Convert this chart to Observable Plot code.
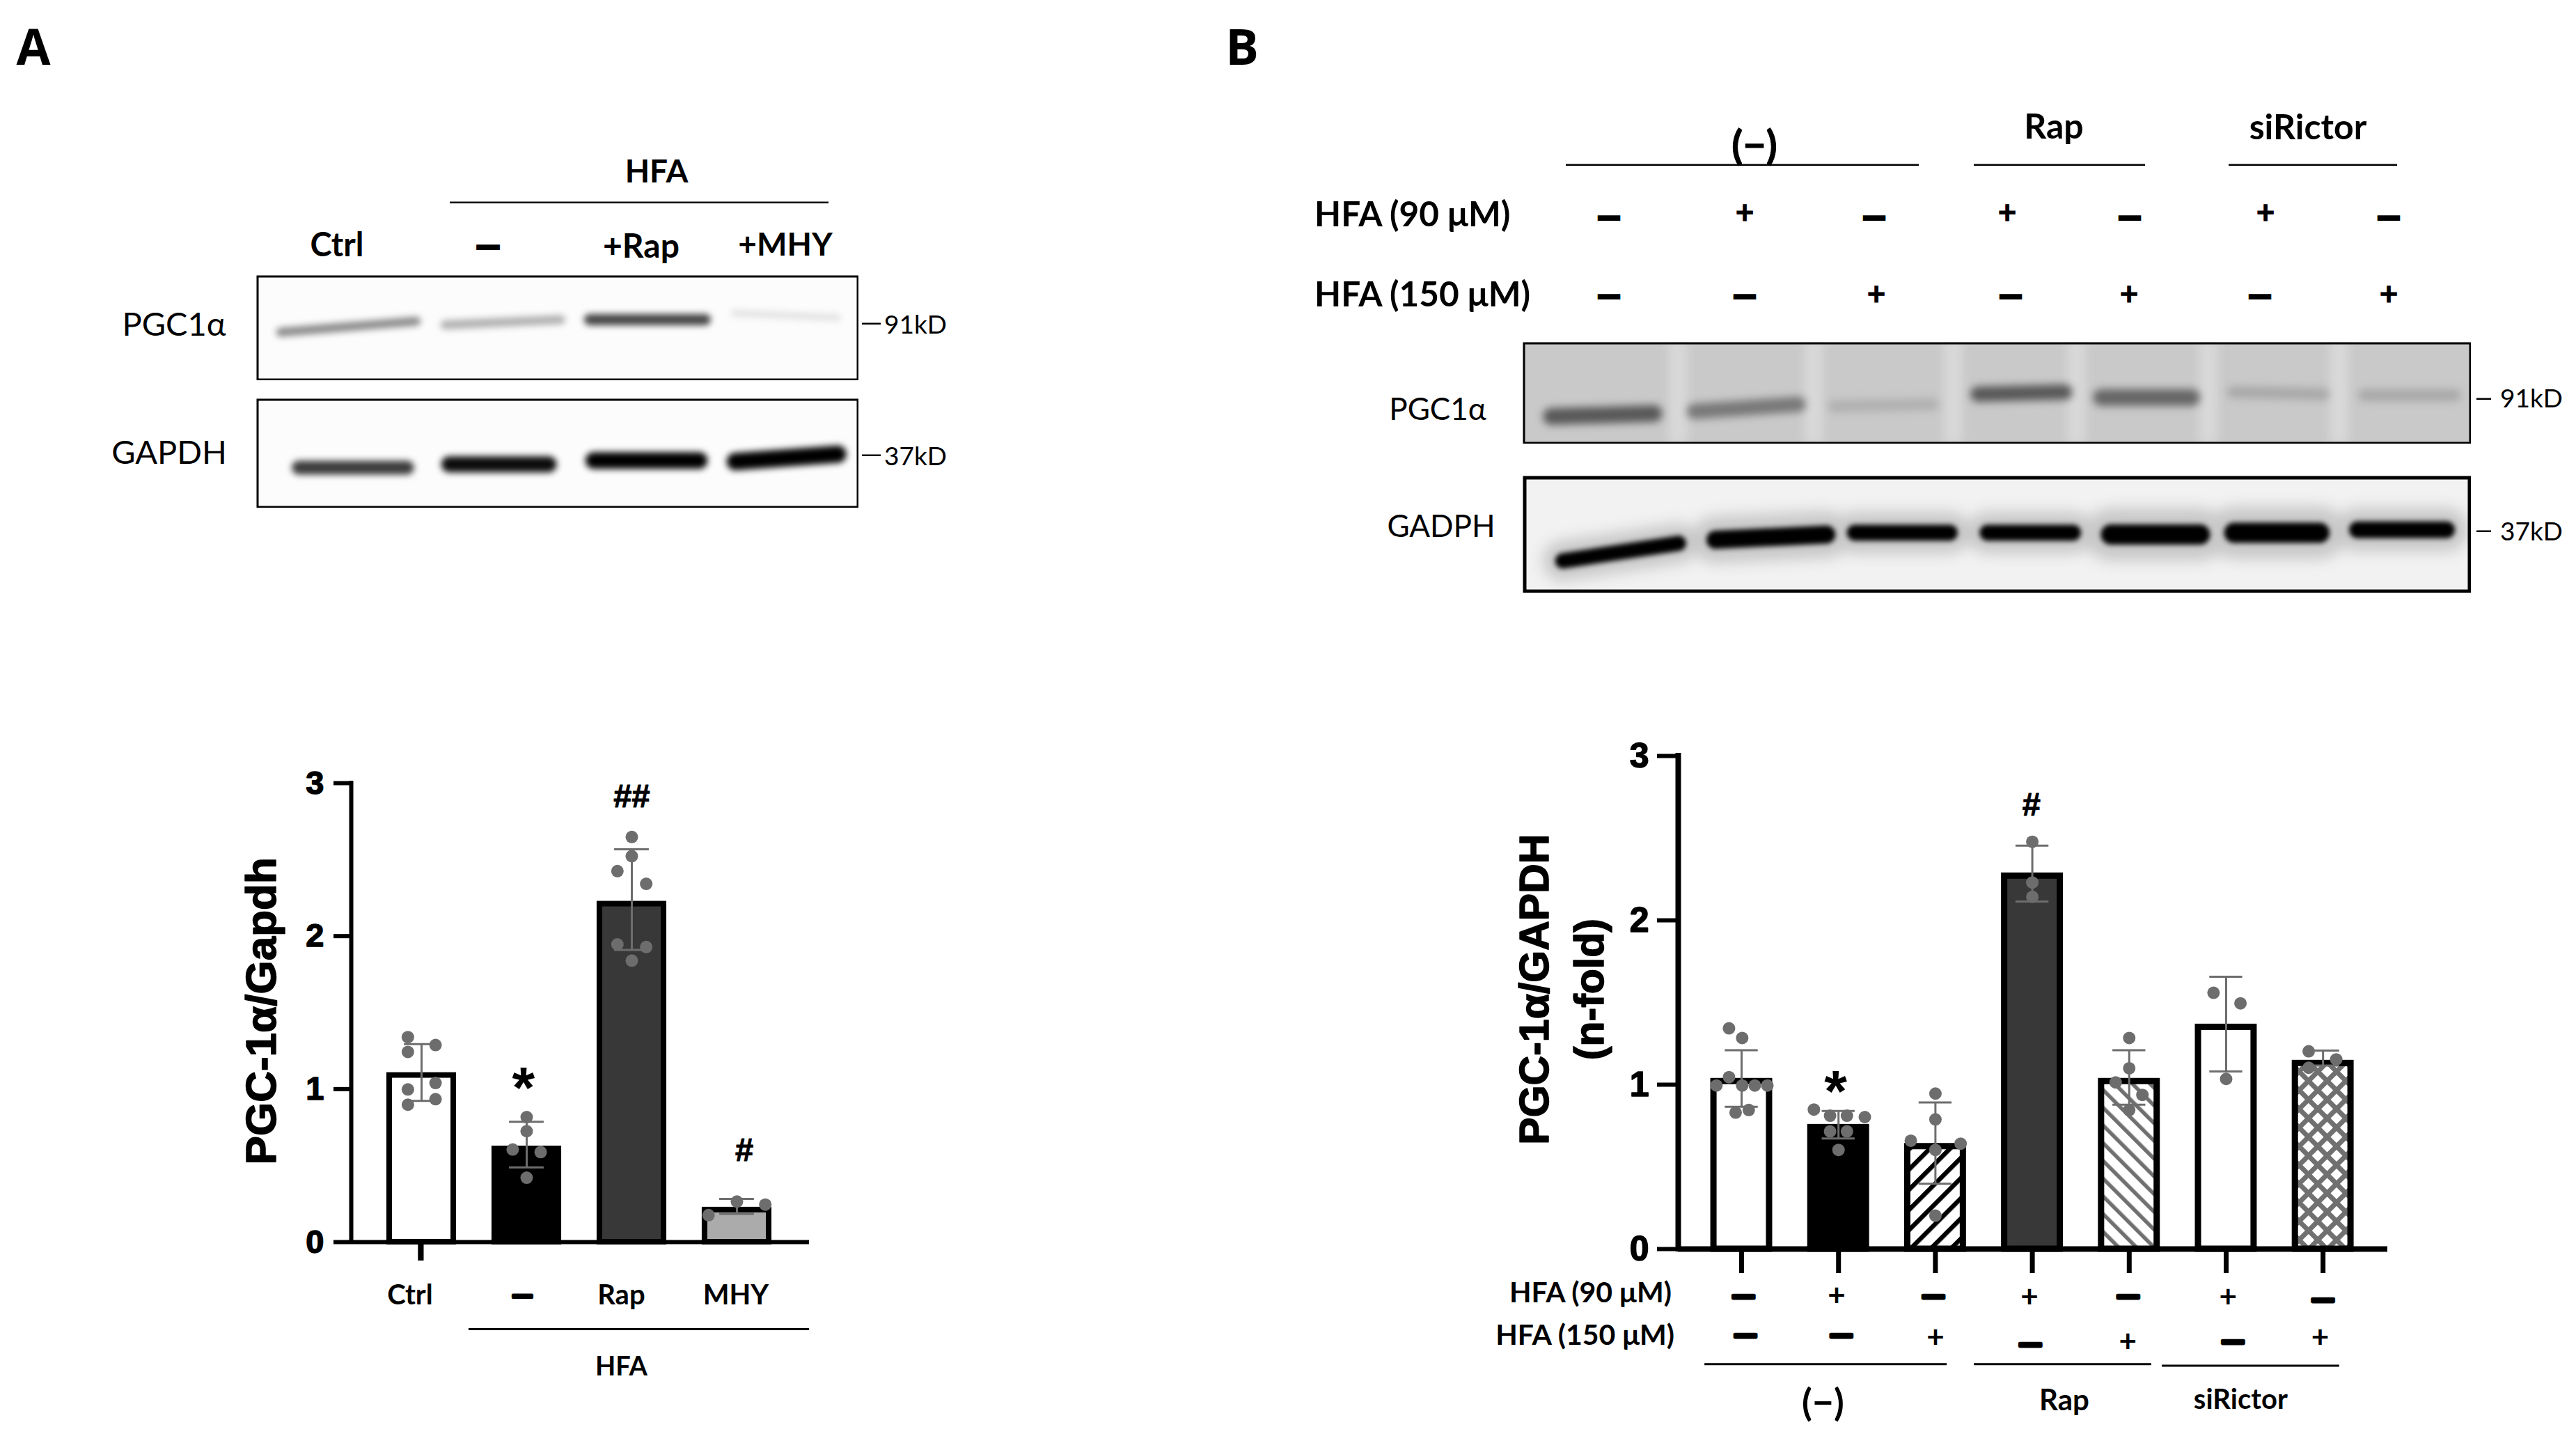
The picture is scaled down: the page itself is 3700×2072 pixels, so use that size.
<!DOCTYPE html>
<html><head><meta charset="utf-8">
<script src="https://cdn.jsdelivr.net/npm/d3@7"></script>
<script src="https://cdn.jsdelivr.net/npm/@observablehq/plot@0.6"></script>
<style>
html,body{margin:0;padding:0;background:#fff;width:3700px;height:2072px;overflow:hidden}
#page{position:relative;width:3700px;height:2072px;overflow:hidden}
.lbl{position:absolute;white-space:nowrap;line-height:1;color:#000;font-family:Lato,sans-serif}
svg.plotted{position:absolute}
</style></head><body>
<svg width="0" height="0" style="position:absolute"><defs>
<pattern id="stripeBlack" width="20.5" height="20.5" patternUnits="userSpaceOnUse" patternTransform="rotate(45)"><rect width="20.5" height="20.5" fill="#fff"/><rect width="6.5" height="20.5" fill="#000"/></pattern>
<pattern id="stripeGray" width="18" height="18" patternUnits="userSpaceOnUse" patternTransform="rotate(-45)"><rect width="18" height="18" fill="#fff"/><rect width="5.5" height="18" fill="#707070"/></pattern>
<pattern id="cross" width="19" height="19" patternUnits="userSpaceOnUse" patternTransform="rotate(45)"><rect width="19" height="19" fill="#fff"/><rect width="7" height="19" fill="#707070"/><rect width="19" height="7" fill="#707070"/></pattern>
</defs></svg>
<div id="page"></div>
<script>
// ---------- Panel A bar chart values ----------
const catA = ["Ctrl","—","Rap","MHY"];
const catLabelAtA = [-0.11,0.96,1.9,2.99];
const meanA = [1.09,0.61,2.21,0.21];
const errHiA = [1.294,0.786,2.568,0.282];
const errLoA = [0.923,0.488,1.91,0.184];
const fillA = ["#ffffff","#000000","#383838","#ababab"];
const tickAtA = [-0.013,-0.013,0,-0.007];
const dotsCtrl = [[-0.13,1.34],[-0.13,1.243],[0.133,1.288],[0.133,1.04],[-0.13,0.998],[0.133,0.934],[-0.13,0.898]];
const dotsVeh = [[0,0.817],[0,0.725],[-0.133,0.605],[0.133,0.588],[0,0.421]];
const dotsRap = [[0,2.648],[0,2.523],[-0.137,2.425],[0.137,2.342],[-0.137,1.946],[0.137,1.929],[0,1.84]];
const dotsMhy = [[0,0.265],[0.27,0.245],[-0.27,0.176]];
const dotsA = [dotsCtrl,dotsVeh,dotsRap,dotsMhy];

// ---------- Panel B bar chart values ----------
const meanB = [1.02,0.74,0.624,2.27,1.02,1.35,1.13];
const errHiB = [1.21,0.84,0.892,2.454,1.21,1.657,1.208];
const errLoB = [0.865,0.673,0.397,2.114,0.878,1.081,1.116];
const fillB = ["#ffffff","#000000","url(#stripeBlack)","#383838","url(#stripeGray)","#ffffff","url(#cross)"];
const dotsB0 = [[-0.13,1.343],[0.006,1.284],[-0.13,1.046],[-0.26,0.995],[0.006,0.995],[0.136,0.995],[0.266,0.995],[-0.062,0.83],[0.074,0.846]];
const dotsB1 = [[-0.254,0.849],[-0.087,0.811],[0.087,0.811],[0.272,0.803],[-0.087,0.716],[0.087,0.716],[0,0.603]];
const dotsB2 = [[0,0.946],[0,0.789],[-0.254,0.659],[0.26,0.641],[0,0.603],[0,0.203]];
const dotsB3 = [[0,2.478],[0,2.23],[0,2.143]];
const dotsB4 = [[0,1.284],[0,1.1],[-0.14,1.014],[0.136,0.938],[0,0.846]];
const dotsB5 = [[-0.13,1.559],[0.148,1.495],[0,1.035]];
const dotsB6 = [[-0.148,1.203],[0.136,1.154],[-0.148,1.103]];
const dotsB = [dotsB0,dotsB1,dotsB2,dotsB3,dotsB4,dotsB5,dotsB6];
const row90 = ["—","+","—","+","—","+","—"];
const row150 = ["—","—","+","—","+","—","+"];
const row90At = [0.02,0.98,1.98,2.97,3.99,5.02,6.0];
const row150At = [0.04,1.03,2,2.98,3.985,5.07,5.97];
const row90Y = [-0.284,-0.284,-0.284,-0.292,-0.284,-0.292,-0.305];
const row150Y = [-0.521,-0.521,-0.538,-0.576,-0.564,-0.559,-0.538];

// ---------- Blot bands (fractions of each blot's frame) ----------
const aPgc = {x1:[0.04,0.313,0.553,0.793],x2:[0.265,0.505,0.745,0.965],y1:[0.54,0.47,0.42,0.36],y2:[0.435,0.42,0.42,0.40],w:[13,13,16,9],c:["#8c8c8c","#b0b0b0","#444444","#e0e0e0"]};
const aGapdh = {x1:[0.07,0.32,0.56,0.795],x2:[0.25,0.485,0.735,0.965],y1:[0.63,0.6,0.565,0.575],y2:[0.63,0.6,0.565,0.507],w:[20,23,24,25],c:["#3c3c3c","#0c0c0c","#000","#000"]};
const bPgc = {x1:[0.03,0.181,0.328,0.48,0.61,0.749,0.887],x2:[0.138,0.29,0.432,0.571,0.705,0.844,0.983],y1:[0.73,0.68,0.63,0.51,0.543,0.49,0.52],y2:[0.70,0.61,0.61,0.49,0.543,0.51,0.52],w:[24,22,17,22,24,17,17],c:["#585858","#787878","#b0b0b0","#585858","#666666","#a8a8a8","#a8a8a8"]};
const bGapdh = {x1:[0.042,0.203,0.35,0.49,0.62,0.75,0.88],x2:[0.164,0.32,0.45,0.58,0.714,0.84,0.974],y1:[0.725,0.545,0.485,0.485,0.5,0.485,0.46],y2:[0.575,0.5,0.485,0.485,0.5,0.485,0.46],w:[22,26,23,23,29,29,24],c:["#000","#000","#000","#000","#000","#000","#000"]};
const bPgcStreaks = [0.164,0.307,0.454,0.584,0.723,0.861];

const page = document.getElementById("page");
function place(svg,left,top){svg.classList.add("plotted");svg.style.left=left+"px";svg.style.top=top+"px";page.appendChild(svg);}
function label(t,x,y,o={}){
  const s=document.createElement("div");s.className="lbl";s.textContent=t;
  const a=o.anchor||"middle";
  s.style.left=x+"px";s.style.top=y+"px";
  s.style.transform=`translate(${a==="start"?"0":"-50%"},-50%)`;
  s.style.fontSize=(o.size||40)+"px";
  s.style.fontWeight=o.weight||700;
  if(o.family)s.style.fontFamily=o.family;
  if(o.stroke)s.style.webkitTextStroke=o.stroke+"px #000";
  page.appendChild(s);
}
function rule(x1,x2,y,w){
  const svg=Plot.plot({width:x2-x1,height:w,margin:0,x:{domain:[0,1],axis:null},y:{domain:[0,1],axis:null},
    marks:[Plot.ruleY([0.5],{strokeWidth:w,stroke:"#000"})]});
  place(svg,x1,y-w/2);
}

const DOT="#6d6d6d";
function barChart(cfg){
  const {means,fills,hi,lo,dots,half,capHalf,sw}=cfg;
  const idx=d3.range(means.length);
  const pts=dots.flatMap((g,i)=>g.map(([o,v])=>({x:i+o,v})));
  return Plot.plot({
    width:cfg.width,height:cfg.height,
    marginLeft:cfg.ml,marginRight:cfg.mr,marginTop:cfg.mt,marginBottom:cfg.mb,
    style:{fontFamily:cfg.tickFamily,overflow:"visible",background:"transparent"},
    x:{domain:cfg.xDomain,type:"linear"},
    y:{domain:[0,3]},
    color:{type:"identity"},
    marks:[
      Plot.rect(idx,{x1:i=>i-half,x2:i=>i+half,y1:()=>0,y2:i=>means[i],fill:i=>fills[i],stroke:"#000",strokeWidth:sw}),
      Plot.ruleX(idx,{x:i=>i,y1:i=>lo[i],y2:i=>hi[i],stroke:DOT,strokeWidth:3}),
      Plot.ruleY(idx,{y:i=>hi[i],x1:i=>i-capHalf,x2:i=>i+capHalf,stroke:DOT,strokeWidth:3}),
      Plot.ruleY(idx,{y:i=>lo[i],x1:i=>i-capHalf,x2:i=>i+capHalf,stroke:DOT,strokeWidth:3}),
      Plot.dot(pts,{x:"x",y:"v",r:cfg.r,fill:DOT,stroke:null}),
      Plot.ruleX([cfg.xDomain[0]],{y1:()=>0,y2:()=>3,stroke:"#000",strokeWidth:cfg.axisW,strokeLinecap:"square"}),
      Plot.ruleY([0],{x1:()=>cfg.xDomain[0],x2:()=>cfg.xDomain[1],stroke:"#000",strokeWidth:cfg.axisW}),
      Plot.axisY({ticks:[0,1,2,3],tickFormat:d3.format("d"),tickSize:cfg.ty,tickPadding:cfg.tp,strokeWidth:6,fontSize:cfg.tickSize,fontWeight:"bold",label:null,fill:"#000",stroke:"#000",textStroke:"#000",textStrokeWidth:1.5}),
      Plot.axisX({ticks:cfg.xTicks,tickSize:cfg.tx,strokeWidth:cfg.txW,tickFormat:()=>"",label:null,stroke:"#000"}),
      ...cfg.extra
    ]
  });
}
const LATO="Lato, sans-serif", ARIAL="Liberation Sans, Arial, sans-serif";
const sig=(t,x,y,size,sw)=>Plot.text([t],{x:()=>x,y:()=>y,text:d=>d,fontSize:size,fontWeight:"bold",fontFamily:ARIAL,fill:"#000",stroke:"#000",strokeWidth:sw||0});
const dashStroke=d=>d==="—"?"#000":"none";
const yTitle=(t,x,y,size)=>Plot.text([t],{x:()=>x,y:()=>y,text:d=>d,rotate:-90,fontSize:size,fontWeight:"bold",fontFamily:ARIAL,fill:"#000",stroke:"#000",strokeWidth:1.5});

// ---- Chart A ----
place(barChart({
  width:900,height:990,ml:204,mr:38,mt:44,mb:287,xDomain:[-0.669,3.689],
  means:meanA,fills:fillA,hi:errHiA,lo:errLoA,dots:dotsA,half:0.305,capHalf:0.165,sw:8,r:9,axisW:6,
  tickFamily:ARIAL,tickSize:47,ty:25,tp:14,tx:27,txW:6,xTicks:tickAtA,
  extra:[
    yTitle("PGC-1α/Gapdh",-1.517,1.51,62),
    Plot.text(catA,{x:(d,i)=>catLabelAtA[i],y:()=>-0.35,text:d=>d,fontFamily:LATO,fontSize:40,fontWeight:"bold",fill:"#000",stroke:dashStroke,strokeWidth:4}),
    Plot.ruleY([-0.569],{x1:()=>0.45,x2:()=>3.69,stroke:"#000",strokeWidth:3}),
    Plot.text(["HFA"],{x:()=>1.9,y:()=>-0.815,text:d=>d,fontFamily:LATO,fontSize:38,fontWeight:"bold",fill:"#000"}),
    sig("*",0.97,1.0,84), sig("##",2.0,2.91,47,1), sig("#",3.07,0.6,47,1)
  ]
}),300,1080);

// ---- Chart B ----
place(barChart({
  width:1350,height:1010,ml:290,mr:41,mt:35,mb:267,xDomain:[-0.654,6.667],
  means:meanB,fills:fillB,hi:errHiB,lo:errLoB,dots:dotsB,half:0.287,capHalf:0.17,sw:9,r:9,axisW:8,
  tickFamily:"Liberation Sans Narrow, Liberation Sans, sans-serif",tickSize:50,ty:30,tp:12,tx:35,txW:7,xTicks:d3.range(7),
  extra:[
    yTitle("PGC-1α/GAPDH",-2.13,1.58,59),
    yTitle("(n-fold)",-1.56,1.58,59),
    Plot.text(row90,{x:(d,i)=>row90At[i],y:(d,i)=>row90Y[i],text:d=>d,fontFamily:LATO,fontSize:44,fontWeight:"bold",fill:"#000",stroke:dashStroke,strokeWidth:5}),
    Plot.text(row150,{x:(d,i)=>row150At[i],y:(d,i)=>row150Y[i],text:d=>d,fontFamily:LATO,fontSize:44,fontWeight:"bold",fill:"#000",stroke:dashStroke,strokeWidth:5}),
    Plot.text(["HFA (90 μM)"],{x:()=>-1.56,y:()=>-0.27,text:d=>d,fontFamily:LATO,fontSize:41,fontWeight:"bold",fill:"#000"}),
    Plot.text(["HFA (150 μM)"],{x:()=>-1.616,y:()=>-0.525,text:d=>d,fontFamily:LATO,fontSize:41,fontWeight:"bold",fill:"#000"}),
    Plot.ruleY([-0.7],{x1:()=>-0.38,x2:()=>2.12,stroke:"#000",strokeWidth:3}),
    Plot.ruleY([-0.7],{x1:()=>2.4,x2:()=>4.23,stroke:"#000",strokeWidth:3}),
    Plot.ruleY([-0.71],{x1:()=>4.34,x2:()=>6.17,stroke:"#000",strokeWidth:3}),
    Plot.text(["(−)"],{x:()=>0.84,y:()=>-0.94,text:d=>d,fontFamily:LATO,fontSize:54,fontWeight:"bold",fill:"#000"}),
    Plot.text(["Rap"],{x:()=>3.33,y:()=>-0.925,text:d=>d,fontFamily:LATO,fontSize:42,fontWeight:"bold",fill:"#000"}),
    Plot.text(["siRictor"],{x:()=>5.15,y:()=>-0.92,text:d=>d,fontFamily:LATO,fontSize:40,fontWeight:"bold",fill:"#000"}),
    sig("*",0.97,0.95,84), sig("#",2.99,2.7,47,1)
  ]
}),2120,1050);

// ---- Blots ----
function blot(b,w,h,o){
  const idx=d3.range(b.x1.length);
  const link=(extra)=>Plot.link(idx,{x1:i=>b.x1[i],x2:i=>b.x2[i],y1:i=>b.y1[i],y2:i=>b.y2[i],strokeLinecap:"round",...extra});
  const marks=[Plot.frame({fill:o.bg,stroke:null})];
  if(o.streaks){
    marks.push(Plot.rect(o.streaks,{x1:d=>d-0.01,x2:d=>d+0.01,y1:()=>0,y2:()=>1,fill:"#d8d8d8",imageFilter:"blur(7px)"}));
  }
  if(o.halo)marks.push(link({stroke:o.halo,strokeWidth:i=>b.w[i]*2.6,imageFilter:"blur(10px)"}));
  marks.push(link({stroke:i=>b.c[i],strokeWidth:i=>b.w[i],imageFilter:`blur(${o.blur}px)`}));
  marks.push(Plot.frame({stroke:"#000",strokeWidth:o.border,inset:o.border/2}));
  return Plot.plot({width:w,height:h,margin:0,x:{domain:[0,1],axis:null},color:{type:"identity"},
    y:{domain:[1,0],axis:null,range:[h,0]},marks});
}
place(blot(aPgc,865,151,{bg:"#fcfcfc",blur:5,border:3}),368,395);
place(blot(aGapdh,865,157,{bg:"#fcfcfc",blur:5,border:3}),368,572);
place(blot(bPgc,1362,146,{bg:"#c9c9c9",blur:6,border:3,streaks:bPgcStreaks}),2187,491);
place(blot(bGapdh,1362,168,{bg:"#f2f2f2",blur:3.5,border:5,halo:"#c8c8c8"}),2187,683);

// ---- Page text around blots ----
label("A",48,65,{size:71,family:"Open Sans"});
label("B",1784,65,{size:71,family:"Open Sans"});
// panel A header
label("HFA",943,245,{size:46});
rule(646,1190,290,3);
label("Ctrl",484,350,{size:47});
label("—",701,351,{size:44,stroke:4});
label("+Rap",921,352,{size:48});
label("+MHY",1128,350,{size:46});
label("PGC1α",250,464,{size:47,weight:400});
label("GAPDH",243,648,{size:47,weight:400});
label("91kD",1315,464,{size:37,weight:400});
label("37kD",1315,653,{size:37,weight:400});
rule(1238,1265,464,3);
rule(1238,1265,653,3);
// panel B header
label("(−)",2520,207,{size:58,stroke:1});
rule(2249,2756,236,3);
label("Rap",2950,180,{size:50});
rule(2835,3081,236,3);
label("siRictor",3315,181,{size:50});
rule(3201,3443,236,3);
label("HFA (90 μM)",1888,307,{size:49.5,anchor:"start"});
label("HFA (150 μM)",1888,422,{size:49.5,anchor:"start"});
const topRowAt90=[2311,2506,2692,2883,3059,3254,3431];
const topRowAt150=[2311,2506,2695,2888,3058,3246,3431];
row90.forEach((s,i)=>label(s,topRowAt90[i],s==="—"?310:304,{size:s==="—"?42:46,stroke:s==="—"?4:1}));
row150.forEach((s,i)=>label(s,topRowAt150[i],s==="—"?423:421,{size:s==="—"?42:46,stroke:s==="—"?4:1}));
label("PGC1α",2065,586,{size:44,weight:400});
label("GADPH",2070,754,{size:44,weight:400});
label("91kD",3636,570,{size:37,weight:400});
label("37kD",3636,761,{size:37,weight:400});
rule(3557,3578,572,3);
rule(3557,3578,762,3);
</script>
</body></html>
